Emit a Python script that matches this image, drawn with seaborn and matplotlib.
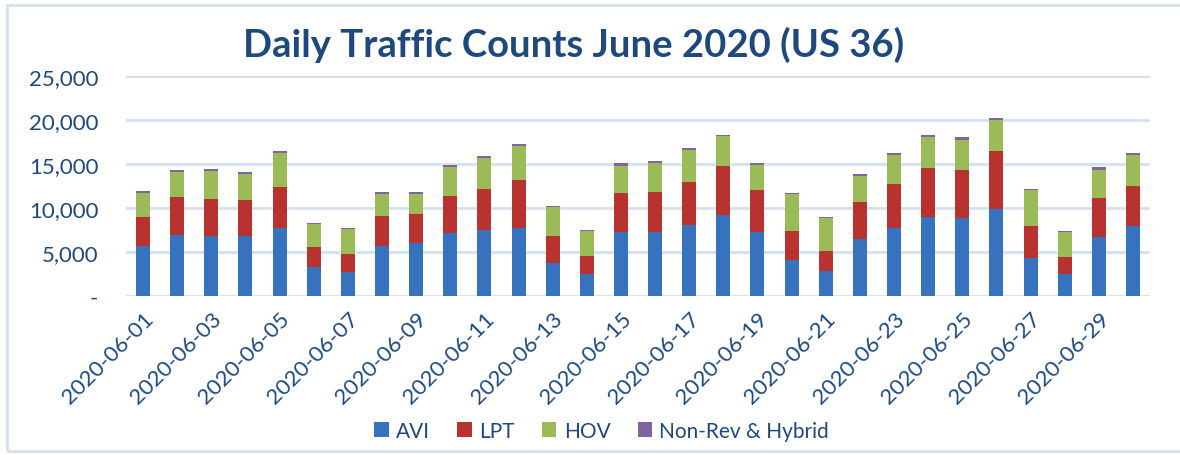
import numpy as np
import pandas as pd
import matplotlib
matplotlib.use("Agg")
import matplotlib.pyplot as plt
from matplotlib.patches import Rectangle, Patch
from matplotlib.ticker import FuncFormatter
import seaborn as sns

# Daily counts
dates = [f"2020-06-{d:02d}" for d in range(1, 31)]
avi = [5660, 6950, 6800, 6800, 7710, 3270, 2700, 5660, 6000, 7140,
       7490, 7710, 3720, 2470, 7260, 7260, 8060, 9200, 7260, 4070,
       2810, 6460, 7710, 8970, 8850, 9880, 4290, 2470, 6690, 7940]
lpt = [3300, 4290, 4220, 4110, 4710, 2280, 2050, 3420, 3310, 4180,
       4710, 5510, 3080, 2050, 4450, 4600, 4940, 5620, 4790, 3300,
       2280, 4180, 5020, 5590, 5470, 6650, 3650, 1940, 4440, 4600]
hov = [2740, 2850, 3190, 2960, 3840, 2620, 2850, 2510, 2280, 3380,
       3500, 3840, 3310, 2850, 3080, 3270, 3610, 3310, 2850, 4220,
       3760, 3000, 3310, 3530, 3420, 3500, 4100, 2850, 3190, 3500]
nonrev = [190, 230, 230, 230, 230, 110, 110, 230, 230, 190,
          230, 230, 110, 110, 340, 230, 230, 190, 230, 110,
          110, 230, 230, 230, 340, 230, 110, 110, 340, 230]

series = ["AVI", "LPT", "HOV", "Non-Rev & Hybrid"]
colors = ["#3672BE", "#B8332F", "#9BBB59", "#8064A2"]

df = pd.DataFrame({"date": dates, "AVI": avi, "LPT": lpt,
                   "HOV": hov, "Non-Rev & Hybrid": nonrev})
cum = df[series].cumsum(axis=1)

sns.set_theme(style="white")
plt.rcParams["font.family"] = ["Lato", "DejaVu Sans"]
txt = "#1F497D"
grid = "#D5E1F1"

fig = plt.figure(figsize=(11.8, 4.56), dpi=100)
ax = fig.add_axes([0.1068, 0.3487, 0.8678, 0.4824])

# stacked bars: draw running totals from the top series down
for name, col in reversed(list(zip(series, colors))):
    sns.barplot(x=df["date"], y=cum[name], color=col, saturation=1,
                width=0.41, ax=ax, zorder=3, linewidth=0, edgecolor="none")

ax.set_ylim(0, 25000)
ax.set_xlim(-0.5, 29.5)
ax.set_yticks(range(0, 25001, 5000))
ax.yaxis.set_major_formatter(FuncFormatter(lambda v, p: "-" if v == 0 else f"{int(v):,}"))
ax.yaxis.grid(True, color=grid, linewidth=2, zorder=0)
ax.set_axisbelow(True)
for s in ax.spines.values():
    s.set_visible(False)
ax.tick_params(axis="y", length=0, pad=20, labelsize=16, labelcolor=txt)

ax.set_xticks(range(0, 30, 2))
ax.set_xticklabels(dates[::2], rotation=45, ha="right",
                   rotation_mode="anchor", fontsize=16, color=txt)
ax.tick_params(axis="x", length=0, pad=9)
ax.set_xlabel("")
ax.set_ylabel("")

fig.text(0.486, 0.901, "Daily Traffic Counts June 2020 (US 36)",
         ha="center", va="center", fontsize=27.5, fontweight="bold", color=txt)

handles = [Patch(facecolor=c, edgecolor="none") for c in colors]
fig.legend(handles, series, loc="center", bbox_to_anchor=(0.51, 0.053),
           ncol=4, frameon=False, fontsize=15, labelcolor=txt,
           handlelength=0.7, handleheight=0.7, handletextpad=0.35,
           columnspacing=1.3)

# light chart-area border
fig.patches.append(Rectangle((0.0059, 0.009), 1.2, 0.978, transform=fig.transFigure,
                             fill=False, edgecolor=grid, linewidth=2))

fig.savefig("out.png", dpi=100)
